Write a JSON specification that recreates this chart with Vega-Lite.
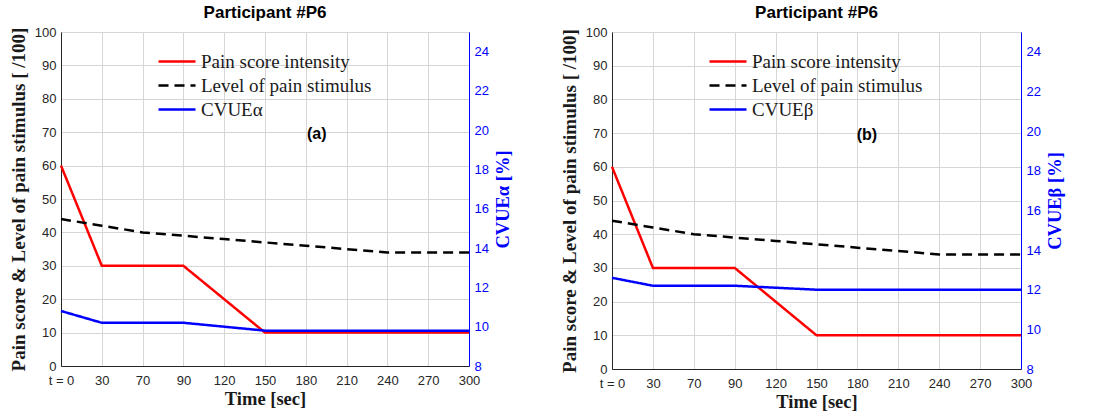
{
  "$schema": "https://vega.github.io/schema/vega-lite/v6.json",
  "background": "white",
  "padding": {"left": 8, "top": 3, "right": 5, "bottom": 3},
  "datasets": {
    "ps": [
      {"t": 0, "series": "Pain score intensity", "value": 60},
      {"t": 30, "series": "Pain score intensity", "value": 30},
      {"t": 90, "series": "Pain score intensity", "value": 30},
      {"t": 150, "series": "Pain score intensity", "value": 10},
      {"t": 300, "series": "Pain score intensity", "value": 10},
      {"t": 0, "series": "Level of pain stimulus", "value": 44},
      {"t": 30, "series": "Level of pain stimulus", "value": 42},
      {"t": 60, "series": "Level of pain stimulus", "value": 40},
      {"t": 90, "series": "Level of pain stimulus", "value": 39},
      {"t": 120, "series": "Level of pain stimulus", "value": 38},
      {"t": 150, "series": "Level of pain stimulus", "value": 37},
      {"t": 180, "series": "Level of pain stimulus", "value": 36},
      {"t": 210, "series": "Level of pain stimulus", "value": 35},
      {"t": 240, "series": "Level of pain stimulus", "value": 34},
      {"t": 270, "series": "Level of pain stimulus", "value": 34},
      {"t": 300, "series": "Level of pain stimulus", "value": 34}
    ],
    "cva": [
      {"t": 0, "series": "CVUEα", "cv": 10.8},
      {"t": 30, "series": "CVUEα", "cv": 10.2},
      {"t": 90, "series": "CVUEα", "cv": 10.2},
      {"t": 150, "series": "CVUEα", "cv": 9.8},
      {"t": 300, "series": "CVUEα", "cv": 9.8}
    ],
    "cvb": [
      {"t": 0, "series": "CVUEβ", "cv": 12.6},
      {"t": 30, "series": "CVUEβ", "cv": 12.2},
      {"t": 90, "series": "CVUEβ", "cv": 12.2},
      {"t": 150, "series": "CVUEβ", "cv": 12.0},
      {"t": 300, "series": "CVUEβ", "cv": 12.0}
    ],
    "lab": [{"label": "note"}]
  },
  "config": {
    "view": {"stroke": "#262626", "strokeWidth": 1},
    "axis": {
      "labelFont": "Liberation Sans",
      "labelFontSize": 13,
      "labelColor": "#262626",
      "titleFont": "Liberation Serif",
      "titleFontWeight": "bold",
      "titleFontSize": 18.5,
      "titleColor": "#1a1a1a",
      "gridColor": "#d6d6d6",
      "gridWidth": 1,
      "domainColor": "#262626",
      "ticks": false,
      "labelPadding": 5,
      "labelFlush": false
    },
    "axisX": {"labelPadding": 8},
    "title": {"font": "Liberation Sans", "fontSize": 17, "fontWeight": "bold", "color": "#000000", "offset": 4},
    "legend": {
      "orient": "none",
      "legendX": 104.5,
      "legendY": 18,
      "labelFont": "Liberation Serif",
      "labelFontSize": 19,
      "labelColor": "#1a1a1a",
      "labelLimit": 400,
      "symbolType": "M-1.85,0L1.85,0",
      "symbolSize": 400,
      "symbolStrokeWidth": 2.5,
      "rowPadding": 2,
      "labelOffset": 12.5,
      "title": null
    }
  },
  "spacing": 46,
  "resolve": {"scale": {"color": "independent", "strokeDash": "independent"}},
  "hconcat": [
    {
      "title": "Participant #P6",
      "width": 408,
      "height": 334,
      "resolve": {"scale": {"y": "independent"}},
      "layer": [
        {
          "layer": [
            {
              "data": {"name": "ps"},
              "mark": {"type": "line", "strokeWidth": 2.5},
              "encoding": {
                "x": {"field": "t", "type": "quantitative", "scale": {"domain": [0, 300], "nice": false},
                  "axis": {"values": [0, 30, 60, 90, 120, 150, 180, 210, 240, 270, 300], "labelExpr": "datum.value == 0 ? 't = 0' : datum.value == 60 ? '70' : datum.label", "title": "Time [sec]", "titlePadding": 2, "grid": true}},
                "y": {"field": "value", "type": "quantitative", "scale": {"domain": [0, 100], "nice": false},
                  "axis": {"values": [0, 10, 20, 30, 40, 50, 60, 70, 80, 90, 100], "title": "Pain score & Level of pain stimulus [ /100]", "titleFontSize": 19, "grid": true, "titlePadding": 6}},
                "color": {"field": "series", "type": "nominal", "scale": {"domain": ["Pain score intensity", "Level of pain stimulus", "CVUEα"], "range": ["#ff0000", "#000000", "#0000ff"]}, "legend": {"title": null}},
                "strokeDash": {"field": "series", "type": "nominal", "scale": {"domain": ["Pain score intensity", "Level of pain stimulus", "CVUEα"], "range": [[1, 0], [10, 6], [1, 0]]}, "legend": {"title": null}}
              }
            },
            {
              "data": {"name": "lab"},
              "mark": {"type": "text", "font": "Liberation Sans", "fontSize": 16, "fontWeight": "bold", "color": "#000000"},
              "encoding": {
                "x": {"datum": 188, "type": "quantitative",
                  "axis": {"values": [0, 30, 60, 90, 120, 150, 180, 210, 240, 270, 300], "labelExpr": "datum.value == 0 ? 't = 0' : datum.value == 60 ? '70' : datum.label", "title": "Time [sec]", "titlePadding": 2, "grid": true}},
                "y": {"datum": 69.5, "type": "quantitative",
                  "axis": {"values": [0, 10, 20, 30, 40, 50, 60, 70, 80, 90, 100], "title": "Pain score & Level of pain stimulus [ /100]", "titleFontSize": 19, "grid": true, "titlePadding": 6}},
                "text": {"value": "(a)"}
              }
            }
          ]
        },
        {
          "data": {"name": "cva"},
          "mark": {"type": "line", "strokeWidth": 2.5},
          "encoding": {
            "x": {"field": "t", "type": "quantitative",
              "axis": {"values": [0, 30, 60, 90, 120, 150, 180, 210, 240, 270, 300], "labelExpr": "datum.value == 0 ? 't = 0' : datum.value == 60 ? '70' : datum.label", "title": "Time [sec]", "titlePadding": 2, "grid": true}},
            "y": {"field": "cv", "type": "quantitative", "scale": {"domain": [8, 25], "nice": false},
              "axis": {"orient": "right", "values": [8, 10, 12, 14, 16, 18, 20, 22, 24], "title": "CVUEα [%]", "titleAngle": 270, "titleBaseline": "top", "titleColor": "#0000ff", "labelColor": "#0000ff", "domainColor": "#0000ff", "grid": false, "titlePadding": 5}},
            "color": {"field": "series", "type": "nominal", "legend": {"title": null}},
            "strokeDash": {"field": "series", "type": "nominal", "legend": {"title": null}}
          }
        }
      ]
    },
    {
      "title": "Participant #P6",
      "width": 409,
      "height": 337,
      "resolve": {"scale": {"y": "independent"}},
      "layer": [
        {
          "layer": [
            {
              "data": {"name": "ps"},
              "mark": {"type": "line", "strokeWidth": 2.5},
              "encoding": {
                "x": {"field": "t", "type": "quantitative", "scale": {"domain": [0, 300], "nice": false},
                  "axis": {"values": [0, 30, 60, 90, 120, 150, 180, 210, 240, 270, 300], "labelExpr": "datum.value == 0 ? 't = 0' : datum.value == 60 ? '70' : datum.label", "title": "Time [sec]", "titlePadding": 2, "grid": true}},
                "y": {"field": "value", "type": "quantitative", "scale": {"domain": [0, 100], "nice": false},
                  "axis": {"values": [0, 10, 20, 30, 40, 50, 60, 70, 80, 90, 100], "title": "Pain score & Level of pain stimulus [ /100]", "titleFontSize": 19, "grid": true, "titlePadding": 6}},
                "color": {"field": "series", "type": "nominal", "scale": {"domain": ["Pain score intensity", "Level of pain stimulus", "CVUEβ"], "range": ["#ff0000", "#000000", "#0000ff"]}, "legend": {"title": null}},
                "strokeDash": {"field": "series", "type": "nominal", "scale": {"domain": ["Pain score intensity", "Level of pain stimulus", "CVUEβ"], "range": [[1, 0], [10, 6], [1, 0]]}, "legend": {"title": null}}
              }
            },
            {
              "data": {"name": "lab"},
              "mark": {"type": "text", "font": "Liberation Sans", "fontSize": 16, "fontWeight": "bold", "color": "#000000"},
              "encoding": {
                "x": {"datum": 187, "type": "quantitative",
                  "axis": {"values": [0, 30, 60, 90, 120, 150, 180, 210, 240, 270, 300], "labelExpr": "datum.value == 0 ? 't = 0' : datum.value == 60 ? '70' : datum.label", "title": "Time [sec]", "titlePadding": 2, "grid": true}},
                "y": {"datum": 69.5, "type": "quantitative",
                  "axis": {"values": [0, 10, 20, 30, 40, 50, 60, 70, 80, 90, 100], "title": "Pain score & Level of pain stimulus [ /100]", "titleFontSize": 19, "grid": true, "titlePadding": 6}},
                "text": {"value": "(b)"}
              }
            }
          ]
        },
        {
          "data": {"name": "cvb"},
          "mark": {"type": "line", "strokeWidth": 2.5},
          "encoding": {
            "x": {"field": "t", "type": "quantitative",
              "axis": {"values": [0, 30, 60, 90, 120, 150, 180, 210, 240, 270, 300], "labelExpr": "datum.value == 0 ? 't = 0' : datum.value == 60 ? '70' : datum.label", "title": "Time [sec]", "titlePadding": 2, "grid": true}},
            "y": {"field": "cv", "type": "quantitative", "scale": {"domain": [8, 25], "nice": false},
              "axis": {"orient": "right", "values": [8, 10, 12, 14, 16, 18, 20, 22, 24], "title": "CVUEβ [%]", "titleAngle": 270, "titleBaseline": "top", "titleColor": "#0000ff", "labelColor": "#0000ff", "domainColor": "#0000ff", "grid": false, "titlePadding": 5}},
            "color": {"field": "series", "type": "nominal", "legend": {"title": null}},
            "strokeDash": {"field": "series", "type": "nominal", "legend": {"title": null}}
          }
        }
      ]
    }
  ]
}
